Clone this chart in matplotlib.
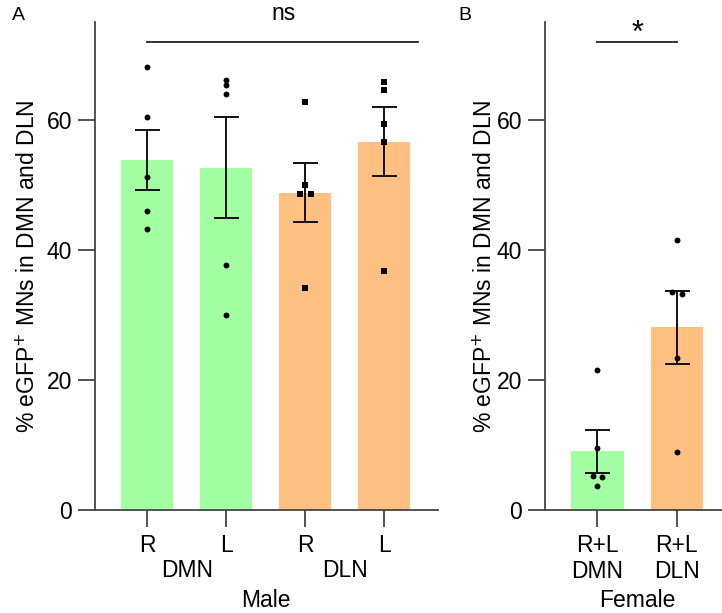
import matplotlib.pyplot as plt
import numpy as np

plt.rcParams["font.family"] = ["Liberation Sans", "DejaVu Sans"]

# Male (panel A)
male_ticks = ["R", "L", "R", "L"]
male_groups = ["DMN", "DLN"]
male_pts = [
    [68.1, 60.4, 51.2, 45.9, 43.2],   # R DMN
    [66.1, 65.3, 64.0, 37.6, 30.0],   # L DMN
    [62.7, 49.9, 48.6, 48.6, 34.1],   # R DLN
    [65.8, 64.6, 59.4, 56.6, 36.7],   # L DLN
]
male_jit = [
    [0, 0, 0, 0, 0],
    [0, 0, 0, 0, 0],
    [0, 0, -0.07, 0.07, 0],
    [0, 0, 0, 0, 0],
]
male_markers = ["o", "o", "s", "s"]

# Female (panel B)
female_ticks = ["R+L\nDMN", "R+L\nDLN"]
female_pts = [
    [21.5, 9.5, 5.3, 5.0, 3.7],       # DMN
    [41.5, 33.5, 33.2, 23.3, 8.9],    # DLN
]
female_jit = [
    [0, 0, -0.06, 0.06, 0],
    [0, -0.06, 0.06, 0, 0],
]

GREEN = "#a2ffa2"
ORANGE = "#ffc082"
male_colors = [GREEN, GREEN, ORANGE, ORANGE]
female_colors = [GREEN, ORANGE]

FS = 16.5
W, H = 722, 613
fig = plt.figure(figsize=(W / 100, H / 100), dpi=100)


def px_axes(x0, x1, y0, y1):
    return fig.add_axes([x0 / W, 1 - y1 / H, (x1 - x0) / W, (y1 - y0) / H])


def style(ax, labelpad):
    for s in ["top", "right"]:
        ax.spines[s].set_visible(False)
    for s in ["left", "bottom"]:
        ax.spines[s].set_linewidth(1.3)
        ax.spines[s].set_color("#444444")
    ax.set_ylim(0, 75)
    ax.set_yticks([0, 20, 40, 60])
    ax.tick_params(length=12.5, width=1.3, color="#444444", labelsize=FS, pad=4)
    ax.tick_params(axis="x", pad=5)
    ax.set_ylabel("% eGFP$^{+}$ MNs in DMN and DLN", fontsize=FS,
                  labelpad=labelpad)


def draw(ax, pts, jit, colors, markers):
    for i, vals in enumerate(pts):
        vals = np.array(vals)
        mean = vals.mean()
        sem = vals.std(ddof=1) / np.sqrt(len(vals))
        ax.bar(i, mean, width=0.66, color=colors[i], zorder=1)
        ax.errorbar(i, mean, yerr=sem, color="#111111", lw=1.4, capsize=9,
                    capthick=1.4, zorder=3)
        ax.scatter(i + np.array(jit[i]), vals, marker=markers[i], s=18,
                   color="black", lw=0, zorder=4)


# panel A
axA = px_axes(95, 438, 22, 510)
style(axA, 5)
draw(axA, male_pts, male_jit, male_colors, male_markers)
axA.set_xlim(-0.66, 3.68)
axA.set_xticks(range(4))
axA.set_xticklabels(male_ticks)
for j, g in enumerate(male_groups):
    axA.text(0.5 + 2 * j, -0.123, g, transform=axA.get_xaxis_transform(),
             ha="center", va="center", fontsize=FS)
axA.text(1.5, -0.186, "Male", transform=axA.get_xaxis_transform(),
         ha="center", va="center", fontsize=FS)
axA.plot([0, 3.43], [72, 72], color="#222222", lw=1.3, clip_on=False)
axA.text(1.72, 76.3, "ns", ha="center", va="center", fontsize=FS)

# panel B
axB = px_axes(545, 722, 22, 510)
style(axB, 0)
draw(axB, female_pts, female_jit, female_colors, ["o", "o"])
axB.set_xlim(-0.66, 1.57)
axB.set_xticks(range(2))
axB.set_xticklabels(female_ticks, linespacing=1.15)
axB.text(0.5, -0.186, "Female", transform=axB.get_xaxis_transform(),
         ha="center", va="center", fontsize=FS)
axB.plot([0, 1], [72, 72], color="#222222", lw=1.3, clip_on=False)
axB.text(0.5, 73.2, "*", ha="center", va="center", fontsize=22)

fig.text(18 / W, 1 - 16 / H, "A", ha="center", va="center", fontsize=14)
fig.text(465 / W, 1 - 16 / H, "B", ha="center", va="center", fontsize=14)

fig.savefig("out.png", dpi=100)
